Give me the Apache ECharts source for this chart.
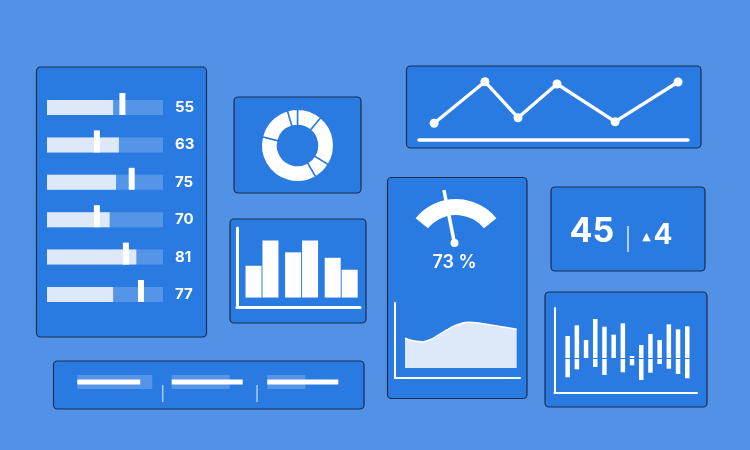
<!DOCTYPE html>
<html><head><meta charset="utf-8">
<script src="https://cdn.jsdelivr.net/npm/echarts@6/dist/echarts.min.js"></script>
<style>html,body{margin:0;padding:0;background:#5192e6;}#c{width:750px;height:450px;}</style>
</head><body><div id="c"></div>
<script>
// ---------------- data ----------------
const bulletLabels = ['55', '63', '75', '70', '81', '77'];
const bulletValues = [57, 62, 59.5, 54, 77, 57];
const bulletTargets = [65, 43, 73, 43, 68, 81];
const bulletMax = 100;

const donutValues = [40, 82, 28, 134, 60, 16];

const groupPositions = [0, 1, 2];
const groupBarsA = [32, 45.5, 40];
const groupBarsB = [57.5, 57.5, 28];

const lineX = [5.6, 24.5, 36.8, 51.3, 72.9, 96.3];
const lineY = [16.7, 58.3, 22.3, 56, 18.3, 58];

const needleValue = 39;
const gaugePercent = 73;

const areaX = [10, 18, 28, 38, 51.7, 61.7, 73.3, 85, 101.7, 121.7];
const areaY = [29.7, 27.3, 26.3, 29.7, 38, 43, 45.7, 44.7, 42, 38.7];

const kpiValue = 45;
const kpiDelta = 4;

const rangeUp = [22, 32.7, 18, 39, 31.3, 23.3, 34.7, 2, 13, 24, 18, 33.7, 28.7, 31.7];
const rangeDown = [-19.3, -11.3, 0, -9, -17, 0, -14.3, -7.3, -22, -14.7, -6, -10.7, -16, -20.3];

const progressTrack = [75, 58, 38];
const progressValue = [63, 71, 71];

// ---------------- style ----------------
const BG = '#5192e6', PANEL = '#2a7be1', BORDER = '#1b2c4e';
const WHITE = '#ffffff', LIGHT = '#dde9f8', TRACK = 'rgba(255,255,255,0.2)';
const FONT = 'Inter';

const panels = [
  [36.5, 67, 170, 270], [234, 97, 127, 96], [230, 219, 136, 104], [406.5, 66, 294.5, 82],
  [387.5, 177.5, 139.5, 221], [551, 187, 154, 84], [545, 292, 162, 115], [53.5, 361, 310.5, 48]
];

const hidden = {axisLine: {show: false}, axisTick: {show: false}, axisLabel: {show: false}, splitLine: {show: false}};
function axisLn(w) {
  return {axisLine: {show: true, onZero: false, lineStyle: {color: WHITE, width: w}},
          axisTick: {show: false}, axisLabel: {show: false}, splitLine: {show: false}};
}

const grids = [
  {left: 47, width: 116, top: 88.8, height: 224.4},        // 0 bullets
  {left: 237, width: 123, top: 228, height: 79.5},         // 1 grouped bars
  {left: 419, width: 269, top: 70, height: 70},            // 2 line
  {left: 395, width: 125, top: 303, height: 75},           // 3 area
  {left: 554.5, width: 142.5, top: 308, height: 85},       // 4 range bars
  {left: 77.3, width: 85, top: 375, height: 14},           // 5 progress
  {left: 171.7, width: 85, top: 375, height: 14},          // 6
  {left: 267.3, width: 85, top: 375, height: 14}           // 7
];

const xAxes = [
  Object.assign({gridIndex: 0, type: 'value', min: 0, max: bulletMax}, hidden),
  Object.assign({gridIndex: 1, type: 'value', min: -0.631, max: 2.475}, axisLn(3)),
  Object.assign({gridIndex: 2, type: 'value', min: 0, max: 100}, axisLn(3.5)),
  Object.assign({gridIndex: 3, type: 'value', min: 0, max: 125}, axisLn(2)),
  Object.assign({gridIndex: 4, type: 'value', min: -1.43, max: 14.06}, axisLn(2)),
  Object.assign({gridIndex: 5, type: 'value', min: 0, max: 85}, hidden),
  Object.assign({gridIndex: 6, type: 'value', min: 0, max: 85}, hidden),
  Object.assign({gridIndex: 7, type: 'value', min: 0, max: 85}, hidden)
];

const yAxes = [
  {gridIndex: 0, type: 'category', data: bulletLabels, inverse: true, position: 'right',
   axisLine: {show: false}, axisTick: {show: false}, splitLine: {show: false},
   axisLabel: {color: WHITE, fontSize: 15, fontWeight: 700, fontFamily: FONT, margin: 12, align: 'left'}},
  Object.assign({gridIndex: 1, type: 'value', min: -10, max: 70}, axisLn(3)),
  Object.assign({gridIndex: 2, type: 'value', min: 0, max: 70}, hidden),
  Object.assign({gridIndex: 3, type: 'value', min: -10, max: 65}, axisLn(2)),
  Object.assign({gridIndex: 4, type: 'value', min: -35, max: 50}, axisLn(2))
];
// progress grids: one category axis for the track, one for the value bar
for (let k = 0; k < 3; k++) {
  yAxes.push(Object.assign({gridIndex: 5 + k, type: 'category', data: ['t']}, hidden));
  yAxes.push(Object.assign({gridIndex: 5 + k, type: 'category', data: ['v']}, hidden));
}

const series = [
  {type: 'bar', xAxisIndex: 0, yAxisIndex: 0, data: bulletLabels.map(() => bulletMax),
   barWidth: 15, barGap: '-100%', itemStyle: {color: TRACK}, silent: true},
  {type: 'bar', xAxisIndex: 0, yAxisIndex: 0, data: bulletValues,
   barWidth: 15, barGap: '-100%', itemStyle: {color: LIGHT}, silent: true},
  {type: 'scatter', xAxisIndex: 0, yAxisIndex: 0, data: bulletTargets.map((v, i) => [v, i]),
   symbol: 'rect', symbolSize: [6, 22], symbolOffset: [0, -3.5], itemStyle: {color: WHITE, opacity: 1}, silent: true},

  {type: 'pie', center: [297.5, 145.5], radius: [20, 36.2], startAngle: 90, data: donutValues,
   label: {show: false}, labelLine: {show: false}, silent: true,
   itemStyle: {color: WHITE, borderColor: PANEL, borderWidth: 1.5}},

  {type: 'bar', xAxisIndex: 1, yAxisIndex: 1, data: groupPositions.map((p, i) => [p, groupBarsA[i]]),
   barWidth: 16, barGap: '6%', itemStyle: {color: WHITE}, silent: true},
  {type: 'bar', xAxisIndex: 1, yAxisIndex: 1, data: groupPositions.map((p, i) => [p, groupBarsB[i]]),
   barWidth: 16, barGap: '6%', itemStyle: {color: WHITE}, silent: true},

  {type: 'line', xAxisIndex: 2, yAxisIndex: 2, data: lineX.map((x, i) => [x, lineY[i]]),
   lineStyle: {color: WHITE, width: 3.3}, symbol: 'circle', symbolSize: 9, showSymbol: true,
   itemStyle: {color: WHITE}, silent: true},

  {type: 'gauge', center: [456, 251], radius: 52, startAngle: 141, endAngle: 39, min: 0, max: 100,
   axisLine: {lineStyle: {width: 16, color: [[1, WHITE]]}},
   splitLine: {show: false}, axisTick: {show: false}, axisLabel: {show: false},
   progress: {show: false},
   pointer: {icon: 'rect', length: 54, width: 3.5, offsetCenter: [0, -8], itemStyle: {color: WHITE}},
   anchor: {show: true, showAbove: true, size: 8, offsetCenter: [-1.5, -8], itemStyle: {color: WHITE}},
   title: {show: false},
   detail: {formatter: () => gaugePercent + ' %', offsetCenter: [-1.5, 12], color: WHITE,
            fontSize: 18, fontWeight: 600, fontFamily: FONT},
   data: [{value: needleValue}], silent: true},

  {type: 'line', xAxisIndex: 3, yAxisIndex: 3, data: areaX.map((x, i) => [x, areaY[i]]),
   smooth: 0.4, symbol: 'none', lineStyle: {color: WHITE, width: 1.5},
   areaStyle: {color: LIGHT, opacity: 1}, silent: true},

  {type: 'bar', xAxisIndex: 4, yAxisIndex: 4, data: rangeUp.map((v, i) => [i, v]),
   barWidth: 4.5, barGap: '-100%', itemStyle: {color: WHITE}, silent: true},
  {type: 'bar', xAxisIndex: 4, yAxisIndex: 4, data: rangeDown.map((v, i) => [i, v]),
   barWidth: 4.5, barGap: '-100%', itemStyle: {color: WHITE}, silent: true,
   markLine: {silent: true, symbol: 'none', label: {show: false},
     lineStyle: {color: PANEL, width: 1, type: 'solid'},
     data: [[{coord: [-0.5, 0]}, {coord: [rangeUp.length - 0.5, 0]}]]}}
];
for (let k = 0; k < 3; k++) {
  series.push({type: 'bar', xAxisIndex: 5 + k, yAxisIndex: 5 + 2 * k, data: [progressTrack[k]],
    barWidth: 14, itemStyle: {color: TRACK}, silent: true});
  series.push({type: 'bar', xAxisIndex: 5 + k, yAxisIndex: 6 + 2 * k, data: [progressValue[k]],
    barWidth: 5, itemStyle: {color: WHITE}, silent: true});
}

const graphics = panels.map(p => ({
  type: 'rect', z: -10, silent: true,
  shape: {x: p[0], y: p[1], width: p[2], height: p[3], r: 4},
  style: {fill: PANEL, stroke: BORDER, lineWidth: 1.2}
}));
graphics.push(
  {type: 'line', z: 50, silent: true, shape: {x1: 162.7, y1: 385, x2: 162.7, y2: 402},
   style: {stroke: 'rgba(255,255,255,0.6)', lineWidth: 1.5}},
  {type: 'line', z: 50, silent: true, shape: {x1: 257, y1: 385, x2: 257, y2: 402},
   style: {stroke: 'rgba(255,255,255,0.6)', lineWidth: 1.5}},
  {type: 'line', z: 50, silent: true, shape: {x1: 628, y1: 226, x2: 628, y2: 252},
   style: {stroke: 'rgba(255,255,255,0.85)', lineWidth: 1.5}},
  {type: 'text', z: 50, silent: true, x: 569.5, y: 232,
   style: {text: String(kpiValue), fill: WHITE, font: '700 34px Inter', textAlign: 'left', textVerticalAlign: 'middle', align: 'left', verticalAlign: 'middle'}},
  {type: 'text', z: 50, silent: true, x: 646.5, y: 237.5,
   style: {text: '▲', fill: WHITE, font: '11px "DejaVu Sans"', textAlign: 'center', textVerticalAlign: 'middle', align: 'center', verticalAlign: 'middle'}},
  {type: 'text', z: 50, silent: true, x: 653.5, y: 235.5,
   style: {text: String(kpiDelta), fill: WHITE, font: '700 28px Inter', textAlign: 'left', textVerticalAlign: 'middle', align: 'left', verticalAlign: 'middle'}}
);

const chart = echarts.init(document.getElementById('c'), null, {renderer: 'canvas'});
chart.setOption({
  backgroundColor: BG,
  animation: false,
  grid: grids,
  xAxis: xAxes,
  yAxis: yAxes,
  series: series,
  graphic: {elements: graphics}
});
</script>
</body></html>
